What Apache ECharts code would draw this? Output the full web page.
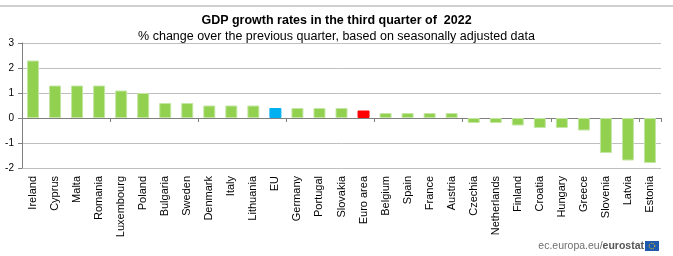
<!DOCTYPE html>
<html><head><meta charset="utf-8">
<script src="https://cdn.jsdelivr.net/npm/echarts@6/dist/echarts.min.js"></script>
<style>html,body{margin:0;padding:0;background:#fff}#c{width:673px;height:256px}</style>
</head><body><div id="c"></div>
<script>
var categories = ['Ireland','Cyprus','Malta','Romania','Luxembourg','Poland','Bulgaria','Sweden','Denmark','Italy','Lithuania','EU','Germany','Portugal','Slovakia','Euro area','Belgium','Spain','France','Austria','Czechia','Netherlands','Finland','Croatia','Hungary','Greece','Slovenia','Latvia','Estonia'];
var values = [2.3,1.3,1.3,1.3,1.1,1.0,0.6,0.6,0.5,0.5,0.5,0.4,0.4,0.4,0.4,0.3,0.2,0.2,0.2,0.2,-0.2,-0.2,-0.3,-0.4,-0.4,-0.5,-1.4,-1.7,-1.8];
var yTicks = [-2,-1,0,1,2,3];
var colorOf = {'EU':'#00B0F0','Euro area':'#FF0000'};

var chart = echarts.init(document.getElementById('c'));
var font = 'Liberation Sans, Arial, sans-serif';
chart.setOption({
  animation:false,
  title:[{text:'GDP growth rates in the third quarter of  2022',left:'center',top:9,
    textStyle:{fontFamily:font,fontSize:12.5,fontWeight:'bold',color:'#000'}},
    {text:'% change over the previous quarter, based on seasonally adjusted data',left:'center',top:25,
    textStyle:{fontFamily:font,fontSize:12.5,fontWeight:'normal',color:'#000'}}],
  grid:{left:22,right:12,top:43,bottom:88},
  xAxis:[{type:'category',data:categories,position:'bottom',
      axisLine:{onZero:true,lineStyle:{color:'#808080',width:1}},
      axisTick:{show:true,length:4,lineStyle:{color:'#808080'}},
      axisLabel:{show:false},splitLine:{show:false}},
    {type:'category',data:categories,position:'bottom',
      axisLine:{show:false},axisTick:{show:false},
      axisLabel:{show:true,rotate:90,interval:0,margin:8,fontFamily:font,fontSize:11,color:'#000'}}],
  yAxis:{type:'value',min:-2,max:3,interval:1,
    axisLine:{show:true,lineStyle:{color:'#808080'}},
    axisTick:{show:true,length:4,lineStyle:{color:'#808080'}},
    axisLabel:{fontFamily:font,fontSize:10,color:'#000',margin:8,formatter:function(v){return yTicks.indexOf(v)>=0?String(v):'';}},
    splitLine:{show:true,lineStyle:{color:'#BFBFBF',width:1}}},
  series:[{type:'bar',xAxisIndex:0,barWidth:12,
    data:values.map(function(v,i){var c=colorOf[categories[i]]||'#92D050';
      return {value:v,itemStyle:{color:c,borderColor:colorOf[categories[i]]?c:'#C4E6A3',borderWidth:1}};})}],
  graphic:[
    {type:'rect',shape:{x:0,y:5,width:673,height:2},style:{fill:'#D0D0D0'}},
    {type:'text',right:29,top:241,style:{rich:{a:{fontFamily:font,fontSize:10.5,fill:'#6E6E6E'},b:{fontFamily:font,fontSize:10.5,fontWeight:'bold',fill:'#555'}},text:'{a|ec.europa.eu/}{b|eurostat}'}},
    {type:'rect',shape:{x:645,y:241,width:14,height:10},style:{fill:'#1F5AAE'}},
    {type:'circle',shape:{cx:652,cy:246,r:2.8},style:{fill:'none',stroke:'#FFD200',lineWidth:1,lineDash:[1,1]}}
  ]
});
</script></body></html>
